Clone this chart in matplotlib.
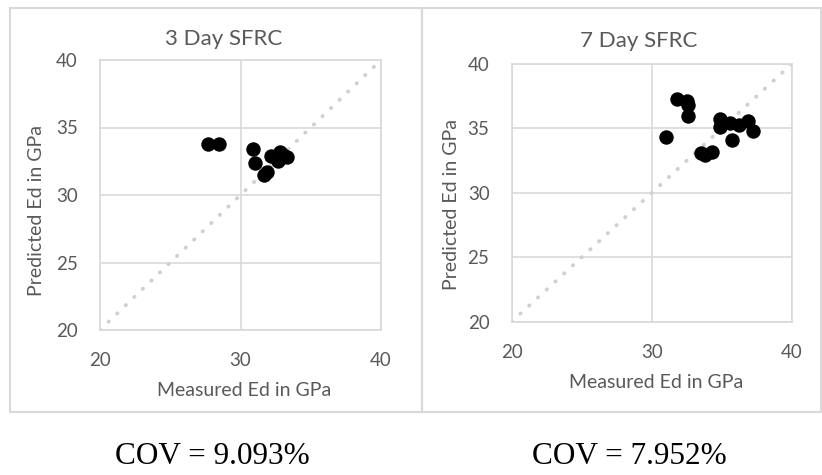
#!/usr/bin/env python3

import matplotlib
matplotlib.use('Agg')
import matplotlib.pyplot as plt
from matplotlib.patches import Rectangle

# 3 day SFRC: measured vs predicted Ed (GPa)
day3_measured = [27.7, 28.5, 30.9, 31.0, 31.7, 31.9, 32.2, 32.5, 32.8, 33.0, 33.3, 32.7]
day3_predicted = [33.8, 33.8, 33.4, 32.4, 31.5, 31.7, 32.9, 32.8, 33.2, 33.0, 32.8, 32.5]

# 7 day SFRC
day7_measured = [31.0, 31.8, 32.5, 32.6, 32.6, 33.5, 33.8, 34.3, 34.9, 34.9, 35.6, 36.2, 36.9, 37.2, 35.7]
day7_predicted = [34.3, 37.3, 37.1, 36.8, 36.0, 33.1, 32.9, 33.2, 35.7, 35.1, 35.4, 35.3, 35.6, 34.8, 34.1]

titles = ['3 Day SFRC', '7 Day SFRC']
cov_labels = ['COV = 9.093%', 'COV = 7.952%']
ticks = [20, 30, 40]
yticks = [20, 25, 30, 35, 40]

W, H = 822, 475
GRID = '#d9d9d9'
TEXT = '#595959'
FONT = 'Lato'


def px(x0, y0, x1, y1):
    # pixel box -> figure fraction [left, bottom, width, height]
    return [x0 / W, 1 - y1 / H, (x1 - x0) / W, (y1 - y0) / H]


def panel(fig, rect, xs, ys):
    ax = fig.add_axes(rect)
    ax.plot([20, 40], [20, 40], color='#d0d0d0', lw=2.8,
            linestyle=(0, (0.1, 2.95)), dash_capstyle='round', zorder=2)
    ax.scatter(xs, ys, s=108, color='black', linewidths=0, zorder=3)
    ax.set_xlim(20, 40)
    ax.set_ylim(20, 40)
    ax.set_xticks(ticks)
    ax.set_yticks(yticks)
    ax.grid(True, color=GRID, lw=1.2, zorder=1)
    for s in ax.spines.values():
        s.set_color(GRID)
        s.set_linewidth(1.2)
    ax.tick_params(length=0, labelsize=13.5, labelcolor=TEXT, pad=16)
    for lab in ax.get_xticklabels() + ax.get_yticklabels():
        lab.set_family(FONT)
    return ax


def main():
    fig = plt.figure(figsize=(W / 100, H / 100), dpi=100)

    # chart frames
    for x0, x1 in [(10, 422), (422, 821)]:
        fig.patches.append(Rectangle((x0 / W, 1 - 412 / H), (x1 - x0) / W, 404 / H,
                                     transform=fig.transFigure, fill=False,
                                     edgecolor=GRID, lw=1.5))

    panel(fig, px(100, 60, 381, 330), day3_measured, day3_predicted)
    panel(fig, px(511.7, 64, 791.7, 321.7), day7_measured, day7_predicted)

    # titles, axis labels
    fig.text(224 / W, 1 - 39 / H, titles[0], ha='center', va='center',
             family=FONT, size=16, color=TEXT)
    fig.text(639 / W, 1 - 41 / H, titles[1], ha='center', va='center',
             family=FONT, size=16, color=TEXT)
    fig.text(244 / W, 1 - 390 / H, 'Measured Ed in GPa', ha='center', va='center',
             family=FONT, size=14, color=TEXT)
    fig.text(656 / W, 1 - 383 / H, 'Measured Ed in GPa', ha='center', va='center',
             family=FONT, size=14, color=TEXT)
    fig.text(36 / W, 1 - 211 / H, 'Predicted Ed in GPa', ha='center', va='center',
             rotation=90, family=FONT, size=14, color=TEXT)
    fig.text(451 / W, 1 - 204 / H, 'Predicted Ed in GPa', ha='center', va='center',
             rotation=90, family=FONT, size=14, color=TEXT)

    # COV captions
    fig.text(212.5 / W, 1 - 457 / H, cov_labels[0], ha='center', va='center',
             family='Liberation Serif', size=22.5, color='black')
    fig.text(629.5 / W, 1 - 457 / H, cov_labels[1], ha='center', va='center',
             family='Liberation Serif', size=22.5, color='black')

    fig.savefig('out.png', dpi=100, facecolor='white')


if __name__ == '__main__':
    main()
